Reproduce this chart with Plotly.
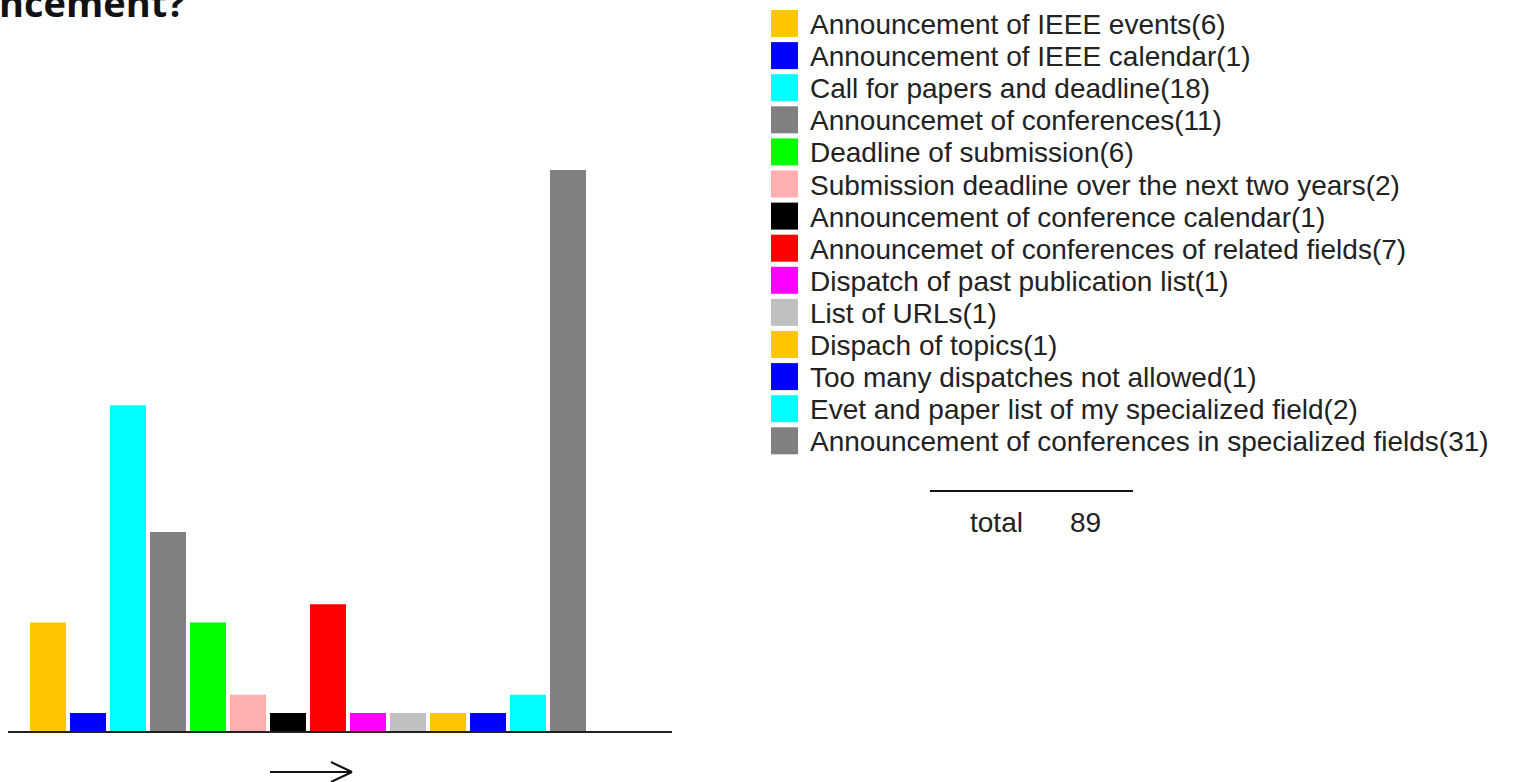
import plotly.graph_objects as go

categories = [
    "Announcement of IEEE events",
    "Announcement of IEEE calendar",
    "Call for papers and deadline",
    "Announcemet of conferences",
    "Deadline of submission",
    "Submission deadline over the next two years",
    "Announcement of conference calendar",
    "Announcemet of conferences of related fields",
    "Dispatch of past publication list",
    "List of URLs",
    "Dispach of topics",
    "Too many dispatches not allowed",
    "Evet and paper list of my specialized field",
    "Announcement of conferences in specialized fields",
]
values = [6, 1, 18, 11, 6, 2, 1, 7, 1, 1, 1, 1, 2, 31]
colors = ["#FFC600", "#0000FF", "#00FFFF", "#808080", "#00FF00", "#FFAFAF", "#000000",
          "#FF0000", "#FF00FF", "#C0C0C0", "#FFC600", "#0000FF", "#00FFFF", "#808080"]
title_text = "ncement?"
total_label = "total"

W, H = 1516, 782
L, R, T, B = 8, 672, 170, 731  # plot area in pixels

FONT = dict(family="Liberation Sans, Arial", size=28, color="#222222")


def px(x):
    return (x - L) / (R - L)


def py(y):
    return (B - y) / (B - T)


fig = go.Figure()
fig.add_trace(go.Bar(
    x=list(range(len(values))),
    y=values,
    marker=dict(color=colors, line=dict(width=0)),
    hovertext=categories,
    showlegend=False,
))

shapes = []
annotations = []

# legend
row0, pitch = 23.5, 32.1
for i, (c, v) in enumerate(zip(categories, values)):
    yc = row0 + i * pitch
    shapes.append(dict(type="rect", xref="paper", yref="paper",
                       x0=px(771), x1=px(798), y0=py(yc - 13.5), y1=py(yc + 13.5),
                       fillcolor=colors[i], line=dict(width=0)))
    annotations.append(dict(xref="paper", yref="paper", x=px(808), y=py(yc + 1),
                            xanchor="left", yanchor="middle", showarrow=False,
                            text=f"{c}({v})", font=FONT))

# total line and text
shapes.append(dict(type="line", xref="paper", yref="paper",
                   x0=px(930), x1=px(1133), y0=py(491), y1=py(491),
                   line=dict(color="#111111", width=2)))
annotations.append(dict(xref="paper", yref="paper", x=px(968), y=py(522),
                        xanchor="left", yanchor="middle", showarrow=False,
                        text=total_label, font=FONT))
annotations.append(dict(xref="paper", yref="paper", x=px(1068), y=py(522),
                        xanchor="left", yanchor="middle", showarrow=False,
                        text=str(sum(values)), font=FONT))

# title fragment (cut off at top-left, as in the source image)
annotations.append(dict(xref="paper", yref="paper", x=px(187), y=py(30),
                        xanchor="right", yanchor="bottom", showarrow=False,
                        text=f"<b>{title_text}</b>",
                        font=dict(family="Open Sans, Noto Sans", size=38, color="#111111")))

# arrow below axis
for (x0, y0, x1, y1) in [(270, 772, 352, 772), (331, 762, 352, 772), (331, 782, 352, 772)]:
    shapes.append(dict(type="line", xref="paper", yref="paper",
                       x0=px(x0), x1=px(x1), y0=py(y0), y1=py(y1),
                       line=dict(color="#111111", width=2)))

fig.update_layout(
    width=W, height=H,
    margin=dict(l=L, r=W - R, t=T, b=H - B, pad=0),
    paper_bgcolor="white", plot_bgcolor="white",
    bargap=0.1,
    xaxis=dict(range=[-1, 15.6], showgrid=False, zeroline=False, showticklabels=False,
               ticks="", showline=True, linecolor="#222222", linewidth=2, fixedrange=True),
    yaxis=dict(range=[0, 31], showgrid=False, zeroline=False, showticklabels=False,
               ticks="", showline=False, fixedrange=True),
    shapes=shapes,
    annotations=annotations,
    showlegend=False,
)

fig.write_html("out.html", config={"displayModeBar": False},
               post_script="document.body.style.margin='0';")
